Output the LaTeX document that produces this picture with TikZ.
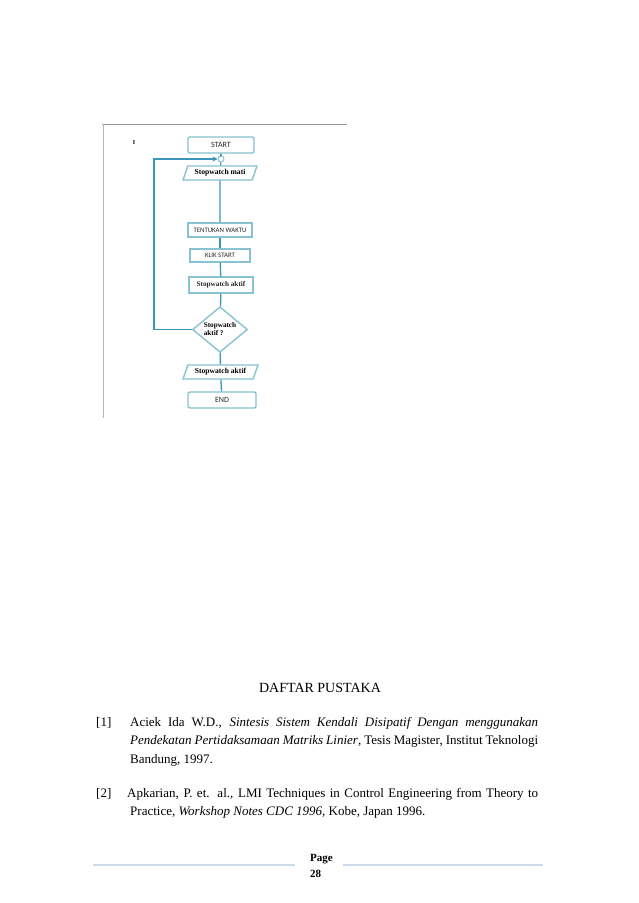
\documentclass[tikz,border=0pt]{standalone}
\usepackage{fontspec}
\setmainfont{Liberation Serif}
\newfontfamily\carl{Carlito}
\usetikzlibrary{shapes.geometric,arrows.meta}
\definecolor{lineteal}{RGB}{60,150,185}
\definecolor{boxc}{RGB}{135,195,210}
\definecolor{framegray}{RGB}{150,150,150}
\definecolor{footc}{RGB}{205,218,232}
\definecolor{txtc}{RGB}{40,40,40}
\tikzset{
  procbox/.style={draw=boxc, line width=1.4pt, fill=white, minimum height=14pt, inner sep=0pt, font=\carl\fontsize{6.8}{7}\selectfont, text=txtc},
  termbox/.style={procbox, rounded corners=2pt, minimum height=16pt, font=\carl\fontsize{8}{8}\selectfont},
  iobox/.style={trapezium, trapezium left angle=55, trapezium right angle=125, trapezium stretches body=true, draw=boxc, line width=1.4pt, fill=white, minimum height=14pt, inner sep=0pt, font=\bfseries\fontsize{7.6}{8}\selectfont},
  decbox/.style={diamond, draw=boxc, line width=1.4pt, fill=white, inner sep=0pt, minimum width=55pt, minimum height=45pt, font=\bfseries\fontsize{7.2}{8}\selectfont, align=left},
  flow/.style={draw=lineteal, line width=1.3pt},
  loopline/.style={draw=lineteal, line width=1.8pt},
  bodytext/.style={anchor=base west, inner sep=0pt, font=\fontsize{13}{15}\selectfont},
}
\begin{document}
\begin{tikzpicture}[x=1pt,y=-1pt]
\path[use as bounding box, fill=white] (0,0) rectangle (638,903);
% image frame
\draw[framegray, line width=1pt] (102,124) -- (347,124);
\draw[framegray!70, line width=0.8pt] (103,124) -- (103,418);
\node[anchor=center, inner sep=0pt, font=\bfseries\fontsize{6}{6}\selectfont] (mark) at (134,143) {I};
% nodes
\node[termbox, minimum width=66pt] (start) at (221,145) {START};
\node[circle, draw=boxc, line width=1pt, fill=white, inner sep=0pt, minimum size=6pt] (conn) at (221,159) {};
\node[iobox, minimum width=74pt] (mati) at (220,173) {Stopwatch mati};
\node[procbox, minimum width=64pt] (tentukan) at (220,230) {TENTUKAN WAKTU};
\node[procbox, minimum width=60pt, minimum height=13pt] (klik) at (220,255.5) {KLIK START};
\node[procbox, minimum width=64pt, minimum height=16pt, font=\bfseries\fontsize{7.2}{8}\selectfont] (aktif1) at (221,285) {Stopwatch aktif};
\node[decbox] (dec) at (220,329.5) {Stopwatch\\aktif ?};
\node[iobox, minimum width=75pt] (aktif2) at (220.5,372) {Stopwatch aktif};
\node[termbox, minimum width=68pt] (end) at (222,400) {END};
% connectors
\draw[flow] (start) -- (conn);
\draw[flow] (conn) -- (mati);
\draw[flow] (mati) -- (tentukan);
\draw[flow] (tentukan) -- (klik);
\draw[flow] (klik) -- (aktif1);
\draw[flow] (aktif1) -- (dec);
\draw[flow] (dec) -- (aktif2);
\draw[flow] (aktif2) -- (end);
\coordinate (lb) at (154,329.5);
\coordinate (lt) at (154,159);
\draw[loopline, -{Stealth[length=5pt,width=5pt]}] (dec.west) -- (lb) -- (lt) -- (conn.west);
% bibliography
\node[anchor=base, inner sep=0pt, font=\fontsize{14}{16}\selectfont] (title) at (320,692) {DAFTAR PUSTAKA};
\node[bodytext] (r1) at (96,726) {[1]};
\node[bodytext] (r1a) at (130,726) {\makebox[408pt][s]{Aciek Ida W.D., \textit{Sintesis Sistem Kendali Disipatif Dengan menggunakan}}};
\node[bodytext] (r1b) at (130,744.5) {\makebox[408pt][s]{\textit{Pendekatan Pertidaksamaan Matriks Linier}, Tesis Magister, Institut Teknologi}};
\node[bodytext] (r1c) at (130,763) {Bandung, 1997.};
\node[bodytext] (r2) at (96,797) {[2]};
\node[bodytext] (r2a) at (127,797) {\makebox[411pt][s]{Apkarian, P. et. al., LMI Techniques in Control Engineering from Theory to}};
\node[bodytext] (r2b) at (130,815.5) {Practice, \textit{Workshop Notes CDC 1996}, Kobe, Japan 1996.};
% footer
\draw[footc, line width=1.6pt] (93,865) -- (295,865);
\draw[footc, line width=1.6pt] (343,865) -- (543,865);
\node[anchor=base west, inner sep=0pt, font=\bfseries\fontsize{11}{12}\selectfont] (page) at (310,861) {Page};
\node[anchor=base west, inner sep=0pt, font=\bfseries\fontsize{11}{12}\selectfont] (pnum) at (310,877) {28};
\end{tikzpicture}
\end{document}
